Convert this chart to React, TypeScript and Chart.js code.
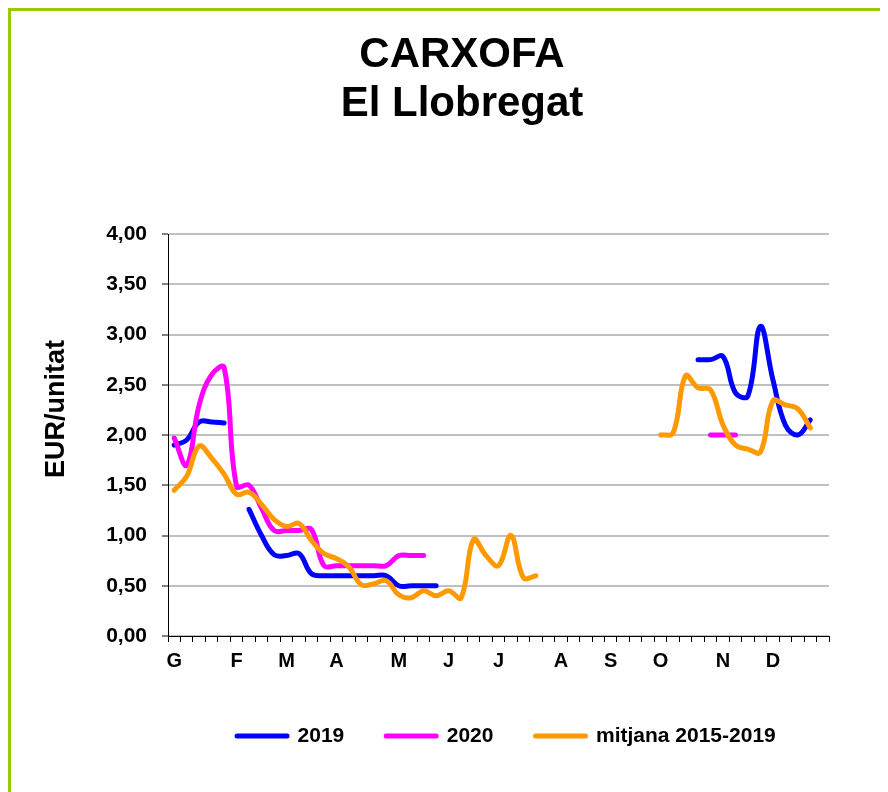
import React, { useEffect, useRef } from 'react';
import { Chart, registerables } from 'chart.js';

Chart.register(...registerables);

// ---- data ----
const weeks = [
  1, 2, 3, 4, 5, 6, 7, 8, 9, 10, 11, 12, 13, 14, 15, 16, 17, 18, 19, 20,
  21, 22, 23, 24, 25, 26, 27, 28, 29, 30, 31, 32, 33, 34, 35, 36, 37, 38, 39, 40,
  41, 42, 43, 44, 45, 46, 47, 48, 49, 50, 51, 52, 53,
];
const monthLabels = ['G', 'F', 'M', 'A', 'M', 'J', 'J', 'A', 'S', 'O', 'N', 'D'];
const monthStartWeeks = [1, 6, 10, 14, 19, 23, 27, 32, 36, 40, 45, 49];

const serie2019 = [
  1.90, 1.95, 2.13, 2.13, 2.12, null, 1.26, 1.00, 0.81, 0.80,
  0.82, 0.62, 0.60, 0.60, 0.60, 0.60, 0.60, 0.60, 0.50, 0.50,
  0.50, 0.50, null, null, null, null, null, null, null, null,
  null, null, null, null, null, null, null, null, null, null,
  null, null, 2.75, 2.75, 2.78, 2.42, 2.39, 3.08, 2.55, 2.10,
  2.00, 2.15, null,
];
const serie2020 = [
  1.97, 1.70, 2.30, 2.60, 2.67, 1.49, 1.50, 1.27, 1.05, 1.05,
  1.05, 1.06, 0.70, 0.70, 0.70, 0.70, 0.70, 0.70, 0.80, 0.80,
  0.80, null, null, null, null, null, null, null, null, null,
  null, null, null, null, null, null, null, null, null, null,
  null, null, null, 2.00, 2.00, 2.00, null, null, null, null,
  null, null, null,
];
const mitjana = [
  1.45, 1.59, 1.89, 1.77, 1.61, 1.41, 1.43, 1.31, 1.16, 1.09,
  1.12, 0.95, 0.82, 0.77, 0.69, 0.51, 0.52, 0.55, 0.41, 0.38,
  0.45, 0.40, 0.45, 0.38, 0.96, 0.80, 0.70, 1.00, 0.58, 0.60,
  null, null, null, null, null, null, null, null, null, 2.00,
  2.02, 2.59, 2.47, 2.45, 2.10, 1.90, 1.86, 1.83, 2.34, 2.30,
  2.26, 2.07, null,
];

const titleLines = ['CARXOFA', 'El Llobregat'];
const yTitle = 'EUR/unitat';
const seriesNames = ['2019', '2020', 'mitjana 2015-2019'];
const seriesColors = ['#0000ff', '#ff00ff', '#ff9900'];

Chart.defaults.font.family = '"Liberation Sans", Arial, Helvetica, sans-serif';
Chart.defaults.color = '#000';

const TITLE_CX = 451;
const LEGEND_CX = 495.4;

const placeBoxes = {
  id: 'placeBoxes',
  afterLayout(chart: any) {
    const t = chart.titleBlock;
    if (t) {
      const dx = TITLE_CX - (t.left + t.right) / 2;
      t.left += dx;
      t.right += dx;
    }
    const l = chart.legend;
    if (l) {
      const dx = LEGEND_CX - (l.left + l.right) / 2;
      l.left += dx;
      l.right += dx;
    }
  },
};

const yTitlePlugin = {
  id: 'yTitlePlugin',
  afterDraw(chart: any) {
    const ctx = chart.ctx;
    ctx.save();
    ctx.translate(46, 398);
    ctx.rotate(-Math.PI / 2);
    ctx.font = 'bold 27px "Liberation Sans", Arial, sans-serif';
    ctx.fillStyle = '#000';
    ctx.textAlign = 'center';
    ctx.textBaseline = 'middle';
    ctx.fillText(yTitle, 0, 0);
    ctx.restore();
  },
};

export default function App() {
  const ref = useRef<HTMLCanvasElement>(null);

  useEffect(() => {
    const canvas = ref.current;
    if (!canvas) return;
    const chart = new Chart(canvas, {
      type: 'line',
      data: {
        labels: weeks.map(String),
        datasets: [
          { label: seriesNames[0], data: serie2019, borderColor: seriesColors[0], backgroundColor: seriesColors[0], order: 3 },
          { label: seriesNames[1], data: serie2020, borderColor: seriesColors[1], backgroundColor: seriesColors[1], order: 2 },
          { label: seriesNames[2], data: mitjana, borderColor: seriesColors[2], backgroundColor: seriesColors[2], order: 1 },
        ],
      },
      options: {
        animation: false,
        responsive: false,
        devicePixelRatio: 1,
        spanGaps: false,
        layout: { padding: { left: 0, right: 59, top: 0, bottom: 35.5 } },
        elements: {
          line: { borderWidth: 5, tension: 0.4, borderCapStyle: 'round', borderJoinStyle: 'round' },
          point: { radius: 0, hoverRadius: 0 },
        },
        plugins: {
          title: {
            display: true,
            text: titleLines,
            color: '#000',
            font: { size: 42, weight: 'bold', lineHeight: 49 / 42 },
            padding: { top: 20, bottom: 105 },
          },
          legend: {
            position: 'bottom',
            labels: {
              usePointStyle: true,
              pointStyle: 'line',
              pointStyleWidth: 50,
              color: '#000',
              font: { size: 21, weight: 'bold' },
              padding: 42,
              sort: (a: any, b: any) => a.datasetIndex - b.datasetIndex,
              generateLabels: (chart: any) => {
                const items = Chart.defaults.plugins.legend.labels.generateLabels(chart);
                return items.map((it: any) => ({
                  ...it,
                  pointStyle: 'line',
                  lineWidth: 5,
                  lineCap: 'round',
                  strokeStyle: seriesColors[it.datasetIndex],
                  fillStyle: seriesColors[it.datasetIndex],
                }));
              },
            },
          },
          tooltip: { enabled: false },
        },
        scales: {
          x: {
            type: 'category',
            offset: true,
            grid: {
              display: true,
              drawOnChartArea: false,
              drawTicks: true,
              tickLength: 6,
              tickColor: '#000',
              tickWidth: 1,
              offset: true,
            },
            border: { display: true, color: '#000', width: 1 },
            ticks: {
              autoSkip: false,
              maxRotation: 0,
              minRotation: 0,
              padding: 7,
              color: '#000',
              font: { size: 20, weight: 'bold' },
              callback: (_v: any, i: number) => {
                const k = monthStartWeeks.indexOf(weeks[i]);
                return k >= 0 ? monthLabels[k] : '';
              },
            },
            afterFit: (s: any) => {
              s.height = 47.5;
            },
          },
          y: {
            min: 0,
            max: 4,
            ticks: {
              stepSize: 0.5,
              padding: 15,
              color: '#000',
              font: { size: 21, weight: 'bold' },
              callback: (v: any) => Number(v).toFixed(2).replace('.', ','),
            },
            grid: {
              color: '#c0c0c0',
              lineWidth: 2,
              tickLength: 6,
              tickColor: '#000',
              tickWidth: 1,
            },
            border: { display: true, color: '#000', width: 1 },
            afterFit: (s: any) => {
              s.width = 157;
            },
          },
        },
      },
      plugins: [placeBoxes, yTitlePlugin],
    } as any);
    return () => chart.destroy();
  }, []);

  return (
    <div
      style={{
        width: 877,
        height: 781,
        borderTop: '3px solid #99cc00',
        borderLeft: '3px solid #99cc00',
        background: '#fff',
      }}
    >
      <canvas ref={ref} width={877} height={781} style={{ display: 'block' }} />
    </div>
  );
}
